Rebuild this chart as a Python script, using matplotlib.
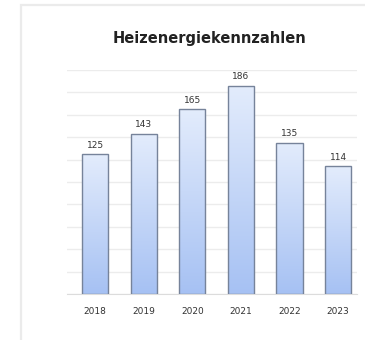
import matplotlib
matplotlib.use("Agg")
import matplotlib.pyplot as plt
import numpy as np
from matplotlib.patches import Rectangle
from matplotlib.colors import LinearSegmentedColormap

years = ["2018", "2019", "2020", "2021", "2022", "2023"]
values = [125, 143, 165, 186, 135, 114]
title = "Heizenergiekennzahlen"

W, H = 365, 340
fig = plt.figure(figsize=(W / 100, H / 100), dpi=100)
fig.patch.set_facecolor("white")

# card border
fig.patches.append(Rectangle((21 / W, -0.1), 1.2, (H - 5) / H + 0.1,
                             transform=fig.transFigure, fill=False,
                             edgecolor="#ebebeb", linewidth=1.6))

ax = fig.add_axes([67 / W, 46 / H, (357 - 67) / W, (294 - 70) / H])
ax.set_facecolor("none")
x = np.arange(len(years))
ax.set_yticks(np.arange(0, 201, 20))
ax.yaxis.grid(True, color="#ececec", linewidth=1)
ax.set_axisbelow(True)
ax.tick_params(axis="y", left=False, labelleft=False)
ax.tick_params(axis="x", length=0, labelsize=6.5, labelcolor="#333333", pad=9)
for s in ["top", "right", "left"]:
    ax.spines[s].set_visible(False)
ax.spines["bottom"].set_color("#dcdcdc")

cmap = LinearSegmentedColormap.from_list("g", ["#a6c1f3", "#e3ecfc"])
grad = np.linspace(0, 1, 256).reshape(-1, 1)
bars = ax.bar(x, values, width=0.54, color="none", edgecolor="#76839a",
              linewidth=1.0, zorder=3)
for b, v in zip(bars, values):
    x0 = b.get_x()
    im = ax.imshow(grad, extent=(x0, x0 + b.get_width(), 0, v), origin="lower",
                   cmap=cmap, aspect="auto", zorder=2)
    im.set_clip_path(b)
    ax.text(b.get_x() + b.get_width() / 2, v + 4, str(v), ha="center",
            va="bottom", fontsize=6.5, color="#333333")
ax.set_xlim(-0.58, 5.39)
ax.set_ylim(0, 200)
ax.set_xticks(x)
ax.set_xticklabels(years)

fig.text(210 / W, 1 - 38 / H, title, ha="center", va="center",
         fontsize=10.5, fontweight="bold", color="#222222")

fig.savefig("out.png", dpi=100)
